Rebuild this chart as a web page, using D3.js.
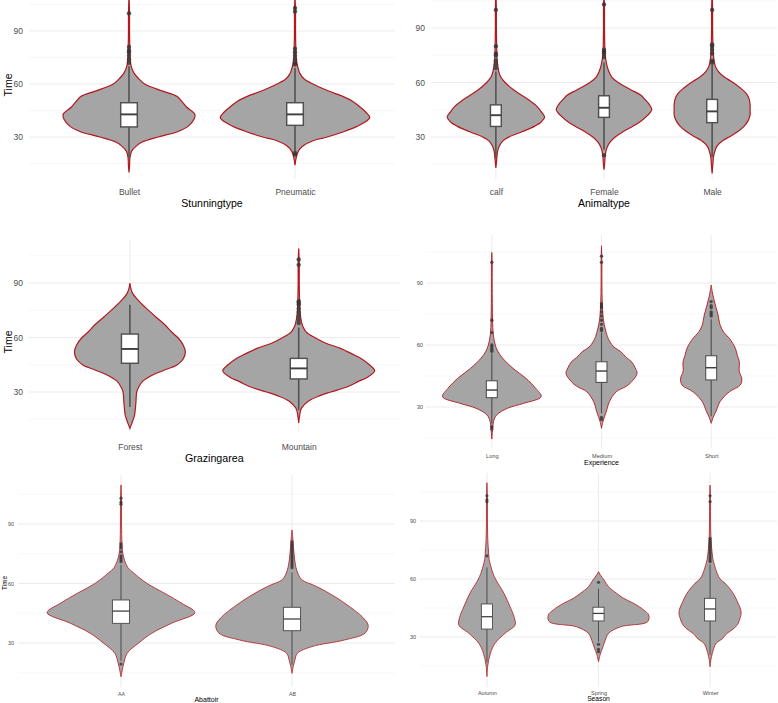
<!DOCTYPE html>
<html>
<head>
<meta charset="utf-8">
<script src="https://cdn.jsdelivr.net/npm/d3@7"></script>
<style>
body{margin:0;background:#fff}
svg{display:block}
text{font-family:"Liberation Sans",Arial,sans-serif}
</style>
</head>
<body>
<svg id="chart" width="778" height="703"></svg>
<script>
// density profiles: [time, relative density], box: [lower whisker, q1, median, q3, upper whisker]
const stunCats = ["Bullet", "Pneumatic"];
const stunDens = [
  [[10,0],[14,0.008],[18,0.012],[22,0.035],[25,0.1],[27,0.17],[30,0.39],[33,0.65],[36,0.79],[40,0.87],[43,0.88],[47,0.77],[50,0.71],[53,0.64],[56,0.45],[60,0.21],[63,0.13],[66,0.07],[70,0.03],[75,0.014],[80,0.011],[90,0.007],[100,0.007],[110,0]],
  [[14,0],[18,0.015],[22,0.045],[25,0.11],[28,0.25],[30,0.43],[33,0.65],[36,0.83],[38,0.92],[41,1.0],[44,0.95],[47,0.87],[50,0.78],[53,0.64],[56,0.45],[60,0.24],[63,0.12],[66,0.065],[70,0.035],[75,0.015],[80,0.011],[90,0.007],[100,0.007],[110,0]]
];
const stunBox = [[18,35.7,42.8,49.4,70],[22,36.6,42.8,49.4,69]];
const stunOut = [[100,81,79,78,76,74,72],[103,101,80,78,76,74,72,71,21,20]];

const animCats = ["calf", "Female", "Male"];
const animDens = [
  [[13,0],[17,0.015],[22,0.035],[25,0.07],[28,0.15],[30,0.27],[33,0.55],[36,0.8],[38,0.92],[41,1.0],[44,0.93],[47,0.84],[50,0.7],[53,0.53],[56,0.36],[60,0.19],[63,0.1],[66,0.06],[70,0.035],[75,0.02],[80,0.016],[90,0.01],[100,0.01],[110,0]],
  [[12,0],[16,0.015],[20,0.025],[24,0.06],[27,0.12],[30,0.23],[33,0.4],[36,0.6],[39,0.77],[42,0.9],[45,0.98],[48,0.93],[51,0.83],[53,0.76],[56,0.55],[60,0.29],[63,0.16],[66,0.1],[70,0.055],[75,0.025],[80,0.016],[90,0.01],[100,0.01],[110,0]],
  [[10,0],[15,0.015],[20,0.035],[25,0.1],[28,0.22],[30,0.35],[33,0.53],[36,0.66],[39,0.74],[42,0.78],[45,0.78],[48,0.78],[51,0.76],[54,0.7],[57,0.58],[60,0.43],[63,0.25],[66,0.13],[69,0.065],[73,0.035],[80,0.018],[90,0.01],[100,0.01],[110,0]]
];
const animBox = [[18,35.8,42.0,47.7,66],[23,40.8,46.1,52.7,71],[19,37.9,44.1,50.7,70]];
const animOut = [[100,80,76,75,72,70,68],[103,78,77,76,74,20],[100,81,80,78,76,72,71]];

const grazCats = ["Forest", "Mountain"];
const grazDens = [
  [[10,0],[14.4,0.04],[17,0.06],[20,0.07],[24.7,0.08],[30,0.09],[33,0.12],[36,0.17],[39.4,0.3],[42,0.45],[44.9,0.62],[48,0.7],[52,0.73],[56,0.7],[60,0.63],[63,0.55],[67,0.46],[71,0.35],[76.7,0.2],[80,0.12],[84,0.04],[87,0.012],[90,0]],
  [[13,0],[17,0.012],[21,0.035],[25,0.13],[28,0.28],[30,0.42],[33,0.65],[35.7,0.78],[38,0.9],[41.7,1.0],[45,0.93],[48.5,0.82],[51,0.7],[54,0.55],[57,0.35],[60,0.21],[63,0.1],[66,0.055],[70,0.03],[75,0.016],[80,0.012],[90,0.007],[100,0.007],[109,0]]
];
const grazBox = [[21.7,45.8,53.7,61.9,78],[20,37.2,43.0,48.5,65.5]];
const grazOut = [[],[103,100,80,79,78,76,74,72,70,68]];

const expCats = ["Long", "Medium", "Short"];
const expDens = [
  [[14.5,0],[19,0.015],[23,0.035],[26.2,0.1],[29.4,0.32],[31.8,0.65],[35,1.0],[39,0.89],[43.9,0.69],[48.7,0.43],[53.6,0.22],[57,0.12],[60,0.07],[65,0.03],[72,0.015],[80,0.01],[90,0.008],[100,0.008],[104.8,0]],
  [[19.7,0],[23,0.03],[28,0.1],[32.6,0.16],[37.4,0.3],[40,0.5],[42.2,0.61],[46.3,0.72],[49,0.68],[51.9,0.61],[54,0.5],[56.8,0.39],[59,0.25],[61.6,0.17],[64,0.12],[68,0.075],[72,0.04],[80,0.016],[90,0.008],[100,0.008],[108,0]],
  [[22.1,0],[25,0.04],[28,0.1],[32.6,0.18],[37.4,0.37],[40.6,0.59],[43.9,0.62],[47.1,0.57],[51.9,0.57],[55,0.53],[58.4,0.49],[63.2,0.37],[66,0.26],[69.7,0.18],[74.5,0.14],[78,0.1],[82.6,0.05],[86,0.02],[89,0]]
];
const expBox = [[22,34.5,38.2,42.7,56],[27,41.9,47.4,51.9,66],[25.5,43.1,49.0,54.8,72.4]];
const expOut = [[100,72,66,60,59,58,57,20.5,19.4],[103,100,80,79,78,76,74,72,70,68,67,25,24],[81,79,78,76,75,74]];

const abatCats = ["AA", "AB"];
const abatDens = [
  [[13,0],[16,0.015],[19.5,0.035],[24.8,0.08],[30,0.23],[34.9,0.4],[40,0.66],[45.3,0.96],[50,0.79],[55,0.57],[60,0.34],[65.1,0.17],[68,0.09],[71.8,0.045],[76,0.02],[80,0.013],[90,0.007],[100,0.007],[109.7,0]],
  [[14.7,0],[18,0.015],[21,0.035],[24.8,0.07],[28.2,0.26],[31.5,0.68],[35,0.95],[39,0.99],[43.3,0.91],[48.3,0.75],[53.3,0.56],[58.5,0.32],[61.8,0.13],[64,0.09],[66.8,0.06],[72,0.035],[78,0.02],[83,0.01],[87,0]]
];
const abatBox = [[21,39.9,46.1,51.7,69.4],[19,36.2,42.1,48.0,65.7]];
const abatOut = [[103,101,100,80,79,78,76,74,73,72,71,19.4],[81,80,79,78,77,76,75,74,73,72,71,70,69,68]];

const seasCats = ["Autumn", "Spring", "Winter"];
const seasDens = [
  [[9.5,0],[15,0.015],[21.6,0.07],[26.7,0.16],[31.9,0.36],[36.2,0.56],[40.5,0.54],[45.7,0.46],[52.6,0.34],[59.5,0.18],[63,0.12],[66.4,0.08],[70,0.045],[75,0.03],[80,0.018],[90,0.01],[100,0.01],[109.8,0]],
  [[17.2,0],[21,0.035],[25,0.09],[28,0.13],[31.9,0.2],[35.3,0.44],[37.9,0.98],[41.4,1.0],[44,0.9],[47.4,0.7],[50,0.5],[52.6,0.36],[56,0.2],[59.5,0.11],[62,0.04],[63.8,0]],
  [[14.6,0],[18,0.015],[22,0.05],[26.7,0.12],[29,0.24],[31.9,0.34],[34.5,0.48],[37.1,0.56],[40,0.6],[42.2,0.62],[45,0.6],[47.4,0.56],[52.6,0.46],[57.8,0.3],[60,0.2],[63,0.14],[67,0.09],[70,0.06],[75,0.035],[80,0.02],[90,0.01],[100,0.01],[108.6,0]]
];
const seasBox = [[17,34.1,40.5,47.1,66],[27.6,38.3,42.2,45.4,55],[20.8,38.3,44.5,50.0,67.5]];
const seasOut = [[103,101,100,72],[58.3,26.2,23.6,22.4],[103,100,81,80,79,78,77,76,75,74,73,72,71,70,69]];

const svg = d3.select('#chart');

function drawPanel(p){
    let g = svg.append('g');
    let x = d3.scalePoint().domain(p.cats).range([p.x0, p.x1]).padding(0.6);
    let y = d3.scaleLinear().domain([30, 90]).range([p.y30, p.y90]);
    let half = d3.scaleLinear().domain([0, 1]).range([0, x.step()*0.45]);
    let bw = x.step()*0.1;

    g.selectAll('line.minor').data([15,45,75,105]).join('line').attr('class','minor')
     .attr('x1',p.x0).attr('x2',p.x1).attr('y1',d=>y(d)).attr('y2',d=>y(d))
     .attr('stroke','#f1f1f1').attr('stroke-width',0.6);
    g.selectAll('line.major').data([30,60,90]).join('line').attr('class','major')
     .attr('x1',p.x0).attr('x2',p.x1).attr('y1',d=>y(d)).attr('y2',d=>y(d))
     .attr('stroke','#ebebeb').attr('stroke-width',1);
    g.selectAll('line.vgrid').data(p.cats).join('line').attr('class','vgrid')
     .attr('x1',d=>x(d)).attr('x2',d=>x(d)).attr('y1',p.top).attr('y2',p.bottom)
     .attr('stroke','#ebebeb').attr('stroke-width',1);

    p.cats.forEach((c,i)=>{
        let cx = x(c);
        let area = d3.area().curve(d3.curveCatmullRom.alpha(0.5))
            .y(d=>y(d[0])).x0(d=>cx-half(d[1])).x1(d=>cx+half(d[1]));
        g.append('path').datum(p.dens[i]).attr('d',area)
         .attr('fill','#a5a5a5').attr('stroke','#b3181e').attr('stroke-width',p.lw);
        let b = p.box[i];
        g.append('line').attr('x1',cx).attr('x2',cx).attr('y1',y(b[0])).attr('y2',y(b[1]))
         .attr('stroke','#505050').attr('stroke-width',p.lw*1.3);
        g.append('line').attr('x1',cx).attr('x2',cx).attr('y1',y(b[3])).attr('y2',y(b[4]))
         .attr('stroke','#505050').attr('stroke-width',p.lw*1.3);
        g.selectAll(null).data(p.out[i]).join('circle')
         .attr('cx',cx).attr('cy',d=>y(d)).attr('r',p.pr)
         .attr('fill','#333').attr('fill-opacity',0.8);
        g.append('rect').attr('x',cx-bw/2).attr('width',bw)
         .attr('y',y(b[3])).attr('height',y(b[1])-y(b[3]))
         .attr('fill','#fff').attr('stroke','#505050').attr('stroke-width',p.lw*1.2);
        g.append('line').attr('x1',cx-bw/2).attr('x2',cx+bw/2).attr('y1',y(b[2])).attr('y2',y(b[2]))
         .attr('stroke','#404040').attr('stroke-width',p.lw*1.6);
    });

    let ya = g.append('g').attr('transform',`translate(${p.tickRight},0)`)
        .call(d3.axisLeft(y).tickValues([30,60,90]).tickSize(0).tickPadding(0));
    ya.select('.domain').remove();
    ya.selectAll('text').attr('fill','#4d4d4d').style('font-size',p.tickFs+'px')
      .style('font-family','"Liberation Sans",Arial,sans-serif');

    let xa = g.append('g').attr('transform',`translate(0,${p.labelY})`)
        .call(d3.axisBottom(x).tickSize(0).tickPadding(0));
    xa.select('.domain').remove();
    xa.selectAll('text').attr('y',0).attr('dy','0.35em').attr('fill','#4d4d4d')
      .style('font-size',p.tickFs+'px').style('font-family','"Liberation Sans",Arial,sans-serif');

    g.append('text').attr('x',(p.x0+p.x1)/2).attr('y',p.titleY).attr('dy','0.35em')
     .attr('text-anchor','middle').style('font-size',p.titleFs+'px').attr('fill','#000').text(p.title);
    if(p.yt){
        g.append('text').attr('transform',`translate(${p.yt[0]},${p.yt[1]}) rotate(-90)`)
         .attr('dy','0.35em').attr('text-anchor','middle').style('font-size',p.yt[2]+'px')
         .attr('fill','#000').text('Time');
    }
}

const panels = [
  {cats:stunCats, dens:stunDens, box:stunBox, out:stunOut, x0:29.4, x1:394.6, y30:137, y90:31, top:-20, bottom:179,
   tickRight:23, labelY:192, titleY:203, title:'Stunningtype', yt:[8,85,10.5], tickFs:8.5, titleFs:10.5, lw:1.2, pr:2.2},
  {cats:animCats, dens:animDens, box:animBox, out:animOut, x0:431, x1:777, y30:137, y90:28, top:-20, bottom:179,
   tickRight:425, labelY:192, titleY:203, title:'Animaltype', yt:null, tickFs:8.5, titleFs:10.5, lw:1.2, pr:2.2},
  {cats:grazCats, dens:grazDens, box:grazBox, out:grazOut, x0:28.6, x1:400, y30:392, y90:283, top:240, bottom:432,
   tickRight:23, labelY:447, titleY:458, title:'Grazingarea', yt:[8,342,10.5], tickFs:8.5, titleFs:10.7, lw:1.2, pr:2.2},
  {cats:expCats, dens:expDens, box:expBox, out:expOut, x0:426, x1:777, y30:407, y90:283, top:235, bottom:448,
   tickRight:423, labelY:456, titleY:463, title:'Experience', yt:null, tickFs:5.7, titleFs:7, lw:0.9, pr:1.7},
  {cats:abatCats, dens:abatDens, box:abatBox, out:abatOut, x0:18.4, x1:394.6, y30:643, y90:524, top:475, bottom:687,
   tickRight:14, labelY:694, titleY:700, title:'Abattoir', yt:[5,583,6.3], tickFs:5.3, titleFs:7, lw:0.8, pr:1.6},
  {cats:seasCats, dens:seasDens, box:seasBox, out:seasOut, x0:420, x1:777, y30:637, y90:521, top:473, bottom:687,
   tickRight:416, labelY:693, titleY:699, title:'Season', yt:null, tickFs:5.5, titleFs:6.7, lw:0.8, pr:1.6}
];

panels.forEach(drawPanel);
</script>
</body>
</html>
